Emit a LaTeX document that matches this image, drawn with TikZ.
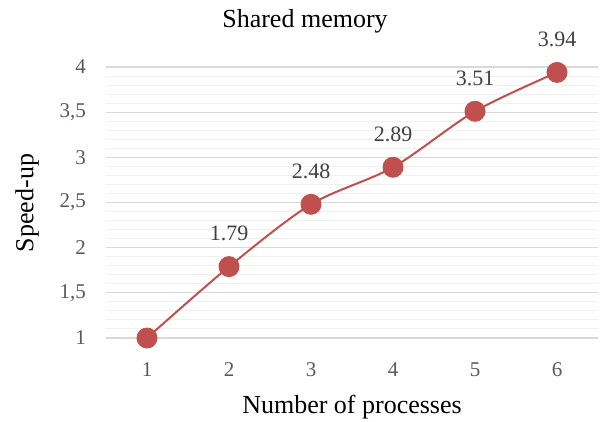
\documentclass[tikz,border=0pt]{standalone}
\usepackage{fontspec}
\setmainfont{Liberation Serif}
\definecolor{txt}{HTML}{595959}
\definecolor{lbl}{HTML}{404040}
\definecolor{ser}{HTML}{C0504D}
\definecolor{majg}{HTML}{D9D9D9}
\definecolor{ming}{HTML}{F0F0F0}
\tikzset{
  tick/.style={text=txt,font=\fontsize{21}{24}\selectfont,inner sep=0pt},
  dlabel/.style={text=lbl,font=\fontsize{22}{25}\selectfont,inner sep=0pt},
  marker/.style={circle,fill=ser,minimum size=21pt,inner sep=0pt},
  axtitle/.style={text=black,font=\fontsize{26}{30}\selectfont,inner sep=0pt},
}
\begin{document}
\begin{tikzpicture}[x=1pt,y=1pt]
\useasboundingbox (0,0) rectangle (600,421);
\node[axtitle] (title) at (305,400) {Shared memory};
\node[axtitle,rotate=90] (ytitle) at (27,218) {Speed-up};
\node[axtitle] (xtitle) at (352,14) {Number of processes};
\begin{scope}[x=82pt,y=90.33pt,shift={(65pt,-7.33pt)}]
  \foreach \v in {1.1,1.2,...,3.95}
    \draw[ming,line width=1pt] (0.5,\v) -- (6.5,\v);
  \foreach \v in {1,1.5,...,4}
    \draw[majg,line width=1.2pt] (0.5,\v) -- (6.5,\v);
  \foreach \v/\t in {1/1,1.5/{1,5},2/2,2.5/{2,5},3/3,3.5/{3,5},4/4}
    \node[tick,anchor=east] (yt\v) at ([xshift=-20pt]0.5,\v) {\t};
  \foreach \n in {1,...,6}
    \node[tick] (xt\n) at ([yshift=-32pt]\n,1) {\n};
  \coordinate (c1) at (1,1);
  \coordinate (c2) at (2,1.79);
  \coordinate (c3) at (3,2.48);
  \coordinate (c4) at (4,2.89);
  \coordinate (c5) at (5,3.51);
  \coordinate (c6) at (6,3.94);
  \draw[ser,line width=2pt,line join=round] plot[smooth,tension=0.5] coordinates {(c1) (c2) (c3) (c4) (c5) (c6)};
  \foreach \n in {1,...,6}
    \node[marker] (p\n) at (c\n) {};
  \node[dlabel] (l2) at ([yshift=33pt]c2) {1.79};
  \node[dlabel] (l3) at ([yshift=33pt]c3) {2.48};
  \node[dlabel] (l4) at ([yshift=33pt]c4) {2.89};
  \node[dlabel] (l5) at ([yshift=33pt]c5) {3.51};
  \node[dlabel] (l6) at ([yshift=33pt]c6) {3.94};
\end{scope}
\end{tikzpicture}
\end{document}
